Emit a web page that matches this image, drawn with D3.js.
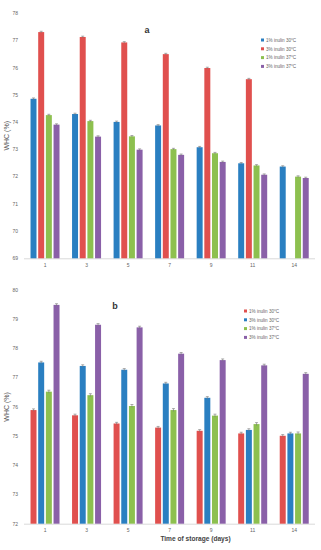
<!DOCTYPE html>
<html><head><meta charset="utf-8">
<script src="https://cdnjs.cloudflare.com/ajax/libs/d3/7.8.5/d3.min.js"></script>
<style>body{margin:0;background:#fff}svg{display:block;font-family:"Liberation Sans",Arial,sans-serif}</style>
</head><body><svg id="c" width="321" height="550"></svg>
<script>
const days = ["1","3","5","7","9","11","14"];
const seriesA = ["1% inulin 30°C","3% inulin 30°C","1% inulin 37°C","3% inulin 37°C"];
const colorsA = ["#2a7fc1","#e0504e","#8dc04f","#8a60a8"];
const a_s1 = [74.86,74.30,74.01,73.88,73.08,72.49,72.37];
const a_s2 = [77.31,77.13,76.93,76.50,75.99,75.58,null];
const a_s3 = [74.26,74.04,73.48,73.01,72.86,72.41,72.00];
const a_s4 = [73.91,73.47,72.99,72.80,72.54,72.07,71.95];
const a_err = [0.03,0.03,0.03,0.03];
const yTicksA = [69,70,71,72,73,74,75,76,77,78];

const seriesB = ["1% inulin 30°C","3% inulin 30°C","1% inulin 37°C","3% inulin 37°C"];
const colorsB = ["#e0504e","#2a7fc1","#8dc04f","#8a60a8"];
const b_s1 = [75.89,75.71,75.43,75.29,75.18,75.09,75.01];
const b_s2 = [77.52,77.40,77.27,76.80,76.31,75.21,75.09];
const b_s3 = [76.52,76.40,76.03,75.89,75.70,75.41,75.09];
const b_s4 = [79.49,78.81,78.72,77.82,77.60,77.42,77.13];
const b_err = [0.04,0.04,0.05,0.04];
const yTicksB = [72,73,74,75,76,77,78,79,80];

const svg = d3.select("#c");

function panel(opts){
  const {top,bottom,domain,ticks,series,colors,values,errs,label,labelPos,legendPos,xLabelY} = opts;
  const x = d3.scaleBand().domain(days).range([24.25,315]).paddingInner(0).paddingOuter(0);
  const y = d3.scaleLinear().domain(domain).range([bottom,top]);
  const groupW = 29;
  const xi = d3.scaleBand().domain(series.map((d,i)=>i)).range([0,groupW]).paddingInner(0.22);
  const g = svg.append("g");
  g.selectAll(".yt").data(ticks).enter().append("text")
    .attr("x",18).attr("y",d=>y(d)+1.8).attr("text-anchor","end")
    .attr("font-size",5).attr("fill","#666").text(d=>d);
  g.append("line").attr("x1",24).attr("x2",315).attr("y1",bottom+0.5).attr("y2",bottom+0.5)
    .attr("stroke","#d9d9d9").attr("stroke-width",1);
  g.selectAll(".xt").data(days).enter().append("text")
    .attr("x",d=>x(d)+x.bandwidth()/2).attr("y",xLabelY).attr("text-anchor","middle")
    .attr("font-size",5).attr("fill","#666").text(d=>d);
  values.forEach((vals,si)=>{
    vals.forEach((v,di)=>{
      if(v==null) return;
      const cx = x(days[di]) + x.bandwidth()/2 - groupW/2 + xi(si);
      g.append("rect").attr("x",cx).attr("width",xi.bandwidth())
        .attr("y",y(v)).attr("height",y(domain[0])-y(v)).attr("fill",colors[si]);
      const mid = cx + xi.bandwidth()/2;
      const e = errs[si];
      g.append("path").attr("d",`M${mid},${y(v+e)}V${y(v-e)}M${mid-1.5},${y(v+e)}H${mid+1.5}`)
        .attr("stroke","#777").attr("stroke-width",0.6).attr("fill","none");
    });
  });
  g.append("text").attr("transform",`translate(9,${(top+bottom)/2}) rotate(-90)`)
    .attr("text-anchor","middle").attr("font-size",7).attr("fill","#555").text("WHC (%)");
  g.append("text").attr("x",labelPos[0]).attr("y",labelPos[1]).attr("text-anchor","middle")
    .attr("font-size",9).attr("font-weight","bold").attr("fill","#333").text(label);
  series.forEach((s,i)=>{
    const ly = legendPos[1] + i*8.8;
    g.append("rect").attr("x",legendPos[0]).attr("y",ly-1.5).attr("width",3).attr("height",3).attr("fill",colors[i]);
    g.append("text").attr("x",legendPos[0]+5).attr("y",ly+1.7).attr("font-size",4.6).attr("fill","#666").text(s);
  });
}

panel({top:13.3,bottom:258.3,domain:[69,78],ticks:yTicksA,series:seriesA,colors:colorsA,
  values:[a_s1,a_s2,a_s3,a_s4],errs:a_err,label:"a",labelPos:[147,33],legendPos:[261,40],xLabelY:266.5});
panel({top:290,bottom:523.7,domain:[72,80],ticks:yTicksB,series:seriesB,colors:colorsB,
  values:[b_s1,b_s2,b_s3,b_s4],errs:b_err,label:"b",labelPos:[115,309],legendPos:[244,311],xLabelY:531.5});

svg.append("text").attr("x",195.5).attr("y",541).attr("text-anchor","middle")
  .attr("font-size",6.6).attr("font-weight","bold").attr("fill","#444").text("Time of storage (days)");
</script></body></html>
